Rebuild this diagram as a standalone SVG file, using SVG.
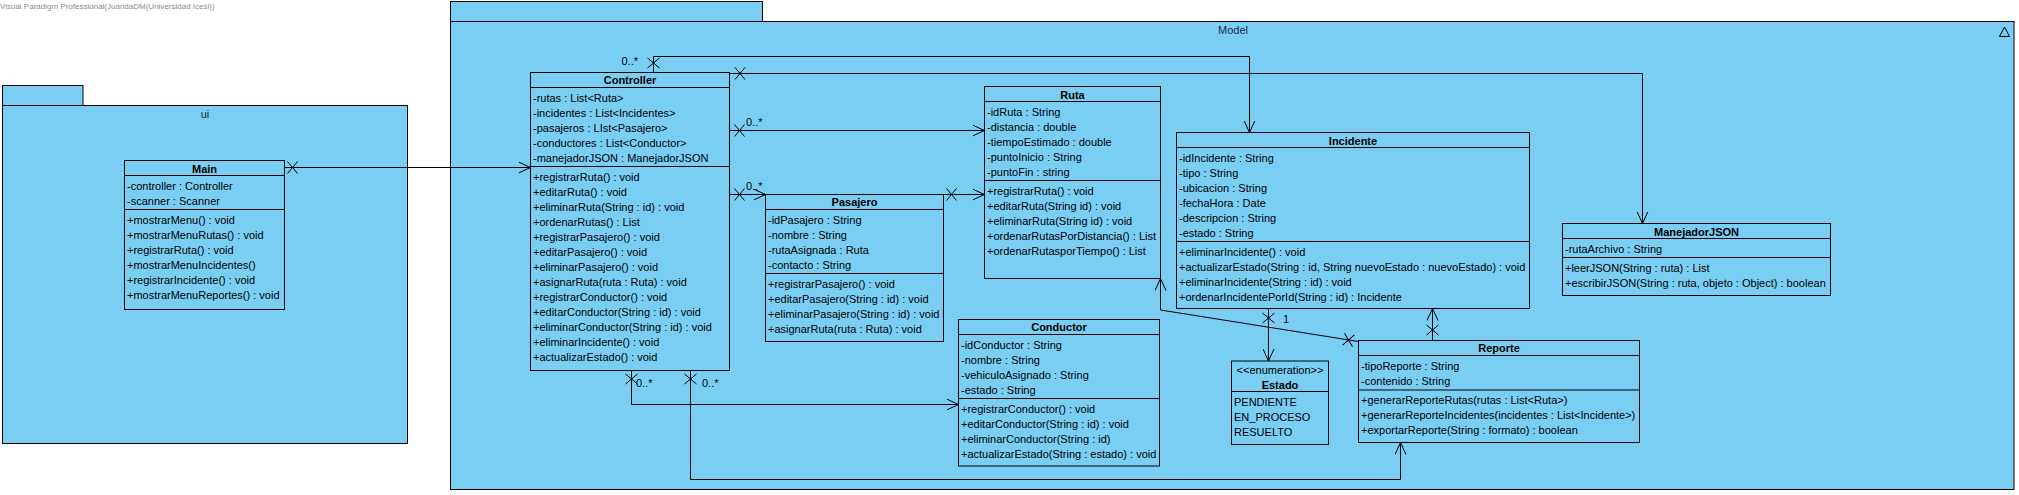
<svg xmlns="http://www.w3.org/2000/svg" xmlns:xlink="http://www.w3.org/1999/xlink" width="2019" height="495" viewBox="0 0 2019 495">
<style>
.pkg{fill:#7ACEF4;stroke:#000;stroke-width:1}
.cls{fill:#7ACEF4;stroke:#000;stroke-width:1}
.sep{stroke:#000;stroke-width:1;fill:none}
text{font-family:"Liberation Sans",Arial,sans-serif;font-size:11px;fill:#000}
.nm{font-weight:bold;text-anchor:middle}
.ctr{text-anchor:middle}
.plbl{font-size:11px;fill:#1a2a3a;text-anchor:middle}
.wm{font-size:8px;fill:#8c8c8c}
.ln{fill:none;stroke:#000;stroke-width:1;marker-end:url(#arr)}
.xm{fill:none;stroke:#000;stroke-width:1}
</style>
<defs>
<marker id="arr" viewBox="0 0 12 12" markerWidth="12" markerHeight="12" refX="12" refY="6" orient="auto" markerUnits="userSpaceOnUse">
<path d="M0,0.5 L12,6 L0,11.5" fill="none" stroke="#000" stroke-width="1"/>
</marker>
<path id="xm" class="xm" d="M-5,-6 L5,6 M-5,6 L5,-6"/>
</defs>

<text class="wm" x="0" y="9">Visual Paradigm Professional(JuandaDM(Universidad Icesi))</text>

<g id="pkg-ui">
<rect class="pkg" x="2.5" y="85.5" width="80.5" height="20"/>
<rect class="pkg" x="2.5" y="105.5" width="405" height="338"/>
<text class="plbl" x="205" y="118">ui</text>
</g>

<g id="pkg-model">
<rect class="pkg" x="450.5" y="1.5" width="312" height="20"/>
<rect class="pkg" x="450.5" y="21.5" width="1563.5" height="468"/>
<text class="plbl" x="1233" y="34">Model</text>
<path d="M1999.5,36.5 L2009.5,36.5 L2004.5,27 Z" fill="none" stroke="#000" stroke-width="1"/>
</g>

<g id="Main">
<rect class="cls" x="124.5" y="160.5" width="160" height="149"/>
<line class="sep" x1="124.5" y1="175.5" x2="284.5" y2="175.5"/>
<line class="sep" x1="124.5" y1="209.5" x2="284.5" y2="209.5"/>
<text class="nm" x="204.5" y="173">Main</text>
<text x="127" y="190">-controller : Controller</text>
<text x="127" y="205">-scanner : Scanner</text>
<text x="127" y="224">+mostrarMenu() : void</text>
<text x="127" y="239">+mostrarMenuRutas() : void</text>
<text x="127" y="254">+registrarRuta() : void</text>
<text x="127" y="269">+mostrarMenuIncidentes()</text>
<text x="127" y="284">+registrarIncidente() : void</text>
<text x="127" y="299">+mostrarMenuReportes() : void</text>
</g>

<g id="Controller">
<rect class="cls" x="530.5" y="72.5" width="199" height="298"/>
<line class="sep" x1="530.5" y1="87.5" x2="729.5" y2="87.5"/>
<line class="sep" x1="530.5" y1="166.5" x2="729.5" y2="166.5"/>
<text class="nm" x="630" y="84">Controller</text>
<text x="533" y="102">-rutas : List&lt;Ruta&gt;</text>
<text x="533" y="117">-incidentes : List&lt;Incidentes&gt;</text>
<text x="533" y="132">-pasajeros : LIst&lt;Pasajero&gt;</text>
<text x="533" y="147">-conductores : List&lt;Conductor&gt;</text>
<text x="533" y="162">-manejadorJSON : ManejadorJSON</text>
<text x="533" y="181">+registrarRuta() : void</text>
<text x="533" y="196">+editarRuta() : void</text>
<text x="533" y="211">+eliminarRuta(String : id) : void</text>
<text x="533" y="226">+ordenarRutas() : List</text>
<text x="533" y="241">+registrarPasajero() : void</text>
<text x="533" y="256">+editarPasajero() : void</text>
<text x="533" y="271">+eliminarPasajero() : void</text>
<text x="533" y="286">+asignarRuta(ruta : Ruta) : void</text>
<text x="533" y="301">+registrarConductor() : void</text>
<text x="533" y="316">+editarConductor(String : id) : void</text>
<text x="533" y="331">+eliminarConductor(String : id) : void</text>
<text x="533" y="346">+eliminarIncidente() : void</text>
<text x="533" y="361">+actualizarEstado() : void</text>
</g>

<g id="Pasajero">
<rect class="cls" x="765.5" y="194.5" width="178" height="147"/>
<line class="sep" x1="765.5" y1="209.5" x2="943.5" y2="209.5"/>
<line class="sep" x1="765.5" y1="273.5" x2="943.5" y2="273.5"/>
<text class="nm" x="854.5" y="206">Pasajero</text>
<text x="768" y="224">-idPasajero : String</text>
<text x="768" y="239">-nombre : String</text>
<text x="768" y="254">-rutaAsignada : Ruta</text>
<text x="768" y="269">-contacto : String</text>
<text x="768" y="288">+registrarPasajero() : void</text>
<text x="768" y="303">+editarPasajero(String : id) : void</text>
<text x="768" y="318">+eliminarPasajero(String : id) : void</text>
<text x="768" y="333">+asignarRuta(ruta : Ruta) : void</text>
</g>

<g id="Ruta">
<rect class="cls" x="984.5" y="86.5" width="176" height="192"/>
<line class="sep" x1="984.5" y1="101.5" x2="1160.5" y2="101.5"/>
<line class="sep" x1="984.5" y1="180.5" x2="1160.5" y2="180.5"/>
<text class="nm" x="1072.5" y="98.5">Ruta</text>
<text x="987" y="116">-idRuta : String</text>
<text x="987" y="131">-distancia : double</text>
<text x="987" y="146">-tiempoEstimado : double</text>
<text x="987" y="161">-puntoInicio : String</text>
<text x="987" y="176">-puntoFin : string</text>
<text x="987" y="195">+registrarRuta() : void</text>
<text x="987" y="210">+editarRuta(String id) : void</text>
<text x="987" y="225">+eliminarRuta(String id) : void</text>
<text x="987" y="240">+ordenarRutasPorDistancia() : List</text>
<text x="987" y="255">+ordenarRutasporTiempo() : List</text>
</g>

<g id="Incidente">
<rect class="cls" x="1176.5" y="132.5" width="353" height="176"/>
<line class="sep" x1="1176.5" y1="147.5" x2="1529.5" y2="147.5"/>
<line class="sep" x1="1176.5" y1="241.5" x2="1529.5" y2="241.5"/>
<text class="nm" x="1353" y="144.5">Incidente</text>
<text x="1179" y="162">-idIncidente : String</text>
<text x="1179" y="177">-tipo : String</text>
<text x="1179" y="192">-ubicacion : String</text>
<text x="1179" y="207">-fechaHora : Date</text>
<text x="1179" y="222">-descripcion : String</text>
<text x="1179" y="237">-estado : String</text>
<text x="1179" y="256">+eliminarIncidente() : void</text>
<text x="1179" y="271">+actualizarEstado(String : id, String nuevoEstado : nuevoEstado) : void</text>
<text x="1179" y="286">+eliminarIncidente(String : id) : void</text>
<text x="1179" y="301">+ordenarIncidentePorId(String : id) : Incidente</text>
</g>

<g id="Conductor">
<rect class="cls" x="958.5" y="319.5" width="201" height="146.5"/>
<line class="sep" x1="958.5" y1="334.5" x2="1159.5" y2="334.5"/>
<line class="sep" x1="958.5" y1="398.5" x2="1159.5" y2="398.5"/>
<text class="nm" x="1059" y="331">Conductor</text>
<text x="961" y="349">-idConductor : String</text>
<text x="961" y="364">-nombre : String</text>
<text x="961" y="379">-vehiculoAsignado : String</text>
<text x="961" y="394">-estado : String</text>
<text x="961" y="413">+registrarConductor() : void</text>
<text x="961" y="428">+editarConductor(String : id) : void</text>
<text x="961" y="443">+eliminarConductor(String : id)</text>
<text x="961" y="458">+actualizarEstado(String : estado) : void</text>
</g>

<g id="Estado">
<rect class="cls" x="1231.5" y="361" width="97" height="83.5"/>
<line class="sep" x1="1231.5" y1="391.5" x2="1328.5" y2="391.5"/>
<text class="ctr" x="1280" y="374">&lt;&lt;enumeration&gt;&gt;</text>
<text class="nm" x="1280" y="389">Estado</text>
<text x="1234" y="406">PENDIENTE</text>
<text x="1234" y="421">EN_PROCESO</text>
<text x="1234" y="436">RESUELTO</text>
</g>

<g id="Reporte">
<rect class="cls" x="1358.5" y="340.5" width="281" height="102"/>
<line class="sep" x1="1358.5" y1="355.5" x2="1639.5" y2="355.5"/>
<line class="sep" x1="1358.5" y1="390" x2="1639.5" y2="390"/>
<text class="nm" x="1499" y="352">Reporte</text>
<text x="1361" y="370">-tipoReporte : String</text>
<text x="1361" y="385">-contenido : String</text>
<text x="1361" y="404">+generarReporteRutas(rutas : List&lt;Ruta&gt;)</text>
<text x="1361" y="419">+generarReporteIncidentes(incidentes : List&lt;Incidente&gt;)</text>
<text x="1361" y="434">+exportarReporte(String : formato) : boolean</text>
</g>

<g id="ManejadorJSON">
<rect class="cls" x="1562.5" y="223.5" width="268" height="72"/>
<line class="sep" x1="1562.5" y1="238.5" x2="1830.5" y2="238.5"/>
<line class="sep" x1="1562.5" y1="257.5" x2="1830.5" y2="257.5"/>
<text class="nm" x="1696.5" y="236">ManejadorJSON</text>
<text x="1565" y="253">-rutaArchivo : String</text>
<text x="1565" y="272">+leerJSON(String : ruta) : List</text>
<text x="1565" y="287">+escribirJSON(String : ruta, objeto : Object) : boolean</text>
</g>

<g id="connectors">
<path class="ln" d="M284.5,167.5 H530.5"/>
<use xlink:href="#xm" href="#xm" transform="translate(292.5,167.5)"/>

<path class="ln" d="M653.5,72.5 V56.5 H1249.5 V132.5"/>
<use xlink:href="#xm" href="#xm" transform="translate(653.5,63) rotate(90)"/>
<text x="638" y="65" style="text-anchor:end">0..*</text>

<path class="ln" d="M729.5,73.5 H1642.5 V223.5"/>
<use xlink:href="#xm" href="#xm" transform="translate(740,73.5)"/>

<path class="ln" d="M729.5,130.5 H984.5"/>
<use xlink:href="#xm" href="#xm" transform="translate(739.5,130.5)"/>
<text x="746" y="126">0..*</text>

<path class="ln" d="M729.5,194.5 H765.5"/>
<use xlink:href="#xm" href="#xm" transform="translate(739.5,194.5)"/>
<text x="746" y="190">0..*</text>

<path class="ln" d="M943.5,194.5 H984.5"/>
<use xlink:href="#xm" href="#xm" transform="translate(951.5,194.5)"/>

<path class="ln" d="M1358.5,341.5 L1160.5,310 V278.5"/>
<use xlink:href="#xm" href="#xm" transform="translate(1348.5,340) rotate(9)"/>

<path class="ln" d="M1268.5,308.5 V361"/>
<use xlink:href="#xm" href="#xm" transform="translate(1268.5,318) rotate(90)"/>
<text x="1283" y="323">1</text>

<path class="ln" d="M1432.5,340.5 V308.5"/>
<use xlink:href="#xm" href="#xm" transform="translate(1432.5,330) rotate(90)"/>

<path class="ln" d="M631.5,370.5 V404.5 H958.5"/>
<use xlink:href="#xm" href="#xm" transform="translate(631.5,379) rotate(90)"/>
<text x="636" y="387">0..*</text>

<path class="ln" d="M690.5,370.5 V479.5 H1400.5 V442.5"/>
<use xlink:href="#xm" href="#xm" transform="translate(690.5,379) rotate(90)"/>
<text x="702" y="387">0..*</text>
</g>
</svg>
